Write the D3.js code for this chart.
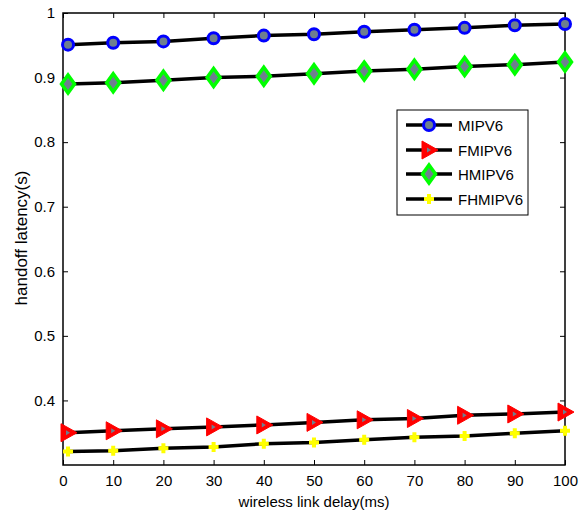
<!DOCTYPE html>
<html><head><meta charset="utf-8">
<script src="https://cdn.jsdelivr.net/npm/d3@7"></script>
<style>body{margin:0;background:#fff;} text{font-family:"Liberation Sans",Arial,sans-serif;}</style>
</head><body>
<svg id="c" width="579" height="514"></svg>
<script>
const xValues = [1,10,20,30,40,50,60,70,80,90,100];
const seriesNames = ["MIPV6","FMIPV6","HMIPV6","FHMIPV6"];
const mipv6   = [0.951,0.954,0.956,0.961,0.965,0.967,0.971,0.974,0.977,0.981,0.983];
const fmipv6  = [0.350,0.353,0.356,0.359,0.362,0.366,0.370,0.372,0.377,0.379,0.382];
const hmipv6  = [0.890,0.892,0.896,0.900,0.902,0.906,0.910,0.913,0.917,0.920,0.924];
const fhmipv6 = [0.321,0.322,0.326,0.328,0.333,0.335,0.339,0.343,0.345,0.349,0.353];
const xTicks = [0,10,20,30,40,50,60,70,80,90,100];
const yTicks = [0.4,0.5,0.6,0.7,0.8,0.9,1];
const xLabel = "wireless link delay(ms)";
const yLabel = "handoff latency(s)";

const svg = d3.select("#c");
const L=63, R=565, T=13, B=465;
const x = d3.scaleLinear().domain([0,100]).range([L,R]);
const y = d3.scaleLinear().domain([0.3,1]).range([B,T]);

const series = [
  {name:seriesNames[0], values:mipv6, marker:"circle"},
  {name:seriesNames[1], values:fmipv6, marker:"triangle"},
  {name:seriesNames[2], values:hmipv6, marker:"diamond"},
  {name:seriesNames[3], values:fhmipv6, marker:"plus"}
];

// axes
const tickLen = 5;
const gx = svg.append("g").attr("transform",`translate(0,${B})`)
  .call(d3.axisBottom(x).tickValues(xTicks).tickSizeInner(-tickLen).tickSizeOuter(0).tickPadding(10).tickFormat(d3.format("d")));
const gxt = svg.append("g").attr("transform",`translate(0,${T})`)
  .call(d3.axisTop(x).tickValues(xTicks).tickSizeInner(-tickLen).tickSizeOuter(0).tickFormat(""));
const gy = svg.append("g").attr("transform",`translate(${L},0)`)
  .call(d3.axisLeft(y).tickValues(yTicks).tickSizeInner(-tickLen).tickSizeOuter(0).tickPadding(8).tickFormat(d=>d===1?"1":d3.format(".1f")(d)));
const gyr = svg.append("g").attr("transform",`translate(${R},0)`)
  .call(d3.axisRight(y).tickValues(yTicks).tickSizeInner(-tickLen).tickSizeOuter(0).tickFormat(""));
[gx,gxt,gy,gyr].forEach(g=>{
  g.select(".domain").remove();
  g.selectAll("line").attr("stroke","#000").attr("stroke-width",1);
  g.selectAll("text").attr("font-size",15).attr("fill","#000").attr("font-family","Liberation Sans, Arial, sans-serif");
});
svg.append("rect").attr("x",L).attr("y",T).attr("width",R-L).attr("height",B-T)
  .attr("fill","none").attr("stroke","#000").attr("stroke-width",1.5);

const grey = "#6e7f8f";
function drawMarker(g, type, cx, cy){
  if(type==="circle"){
    g.append("circle").attr("cx",cx).attr("cy",cy).attr("r",5.5).attr("fill",grey).attr("stroke","#0000ff").attr("stroke-width",3);
  } else if(type==="triangle"){
    g.append("path").attr("d",`M${cx-7},${cy-9}L${cx+9},${cy}L${cx-7},${cy+9}Z`).attr("fill","#ff0000").attr("stroke","#ff0000").attr("stroke-width",1);
    g.append("path").attr("d",`M${cx-2},${cy-2.5}L${cx+2},${cy}L${cx-2},${cy+2.5}Z`).attr("fill",grey);
  } else if(type==="diamond"){
    g.append("path").attr("d",`M${cx},${cy-9}L${cx+6.5},${cy}L${cx},${cy+9}L${cx-6.5},${cy}Z`).attr("fill",grey).attr("stroke","#00ff00").attr("stroke-width",3.5);
  } else if(type==="plus"){
    g.append("path").attr("d",`M${cx-5},${cy}H${cx+5}M${cx},${cy-5}V${cy+5}`).attr("stroke","#ffff00").attr("stroke-width",4);
  }
}

const line = d3.line().x((d,i)=>x(xValues[i])).y(d=>y(d));
series.forEach(s=>{
  svg.append("path").datum(s.values).attr("d",line).attr("fill","none").attr("stroke","#000").attr("stroke-width",3.5);
  const g = svg.append("g");
  s.values.forEach((v,i)=>drawMarker(g, s.marker, x(xValues[i]), y(v)));
});

// labels
svg.append("text").attr("x",(L+R)/2).attr("y",507).attr("text-anchor","middle").attr("font-size",15).text(xLabel);
svg.append("text").attr("transform",`translate(27,238) rotate(-90)`).attr("text-anchor","middle").attr("font-size",17).text(yLabel);

// legend
const lg = svg.append("g");
lg.append("rect").attr("x",397).attr("y",110).attr("width",131).attr("height",105).attr("fill","#fff").attr("stroke","#000").attr("stroke-width",1);
const legY = [125,150,174,199];
series.forEach((s,i)=>{
  lg.append("line").attr("x1",406).attr("x2",452).attr("y1",legY[i]).attr("y2",legY[i]).attr("stroke","#000").attr("stroke-width",3.5);
  drawMarker(lg, s.marker, 429, legY[i]);
  lg.append("text").attr("x",458).attr("y",legY[i]+5.5).attr("font-size",15).text(s.name);
});
</script>
</body></html>
